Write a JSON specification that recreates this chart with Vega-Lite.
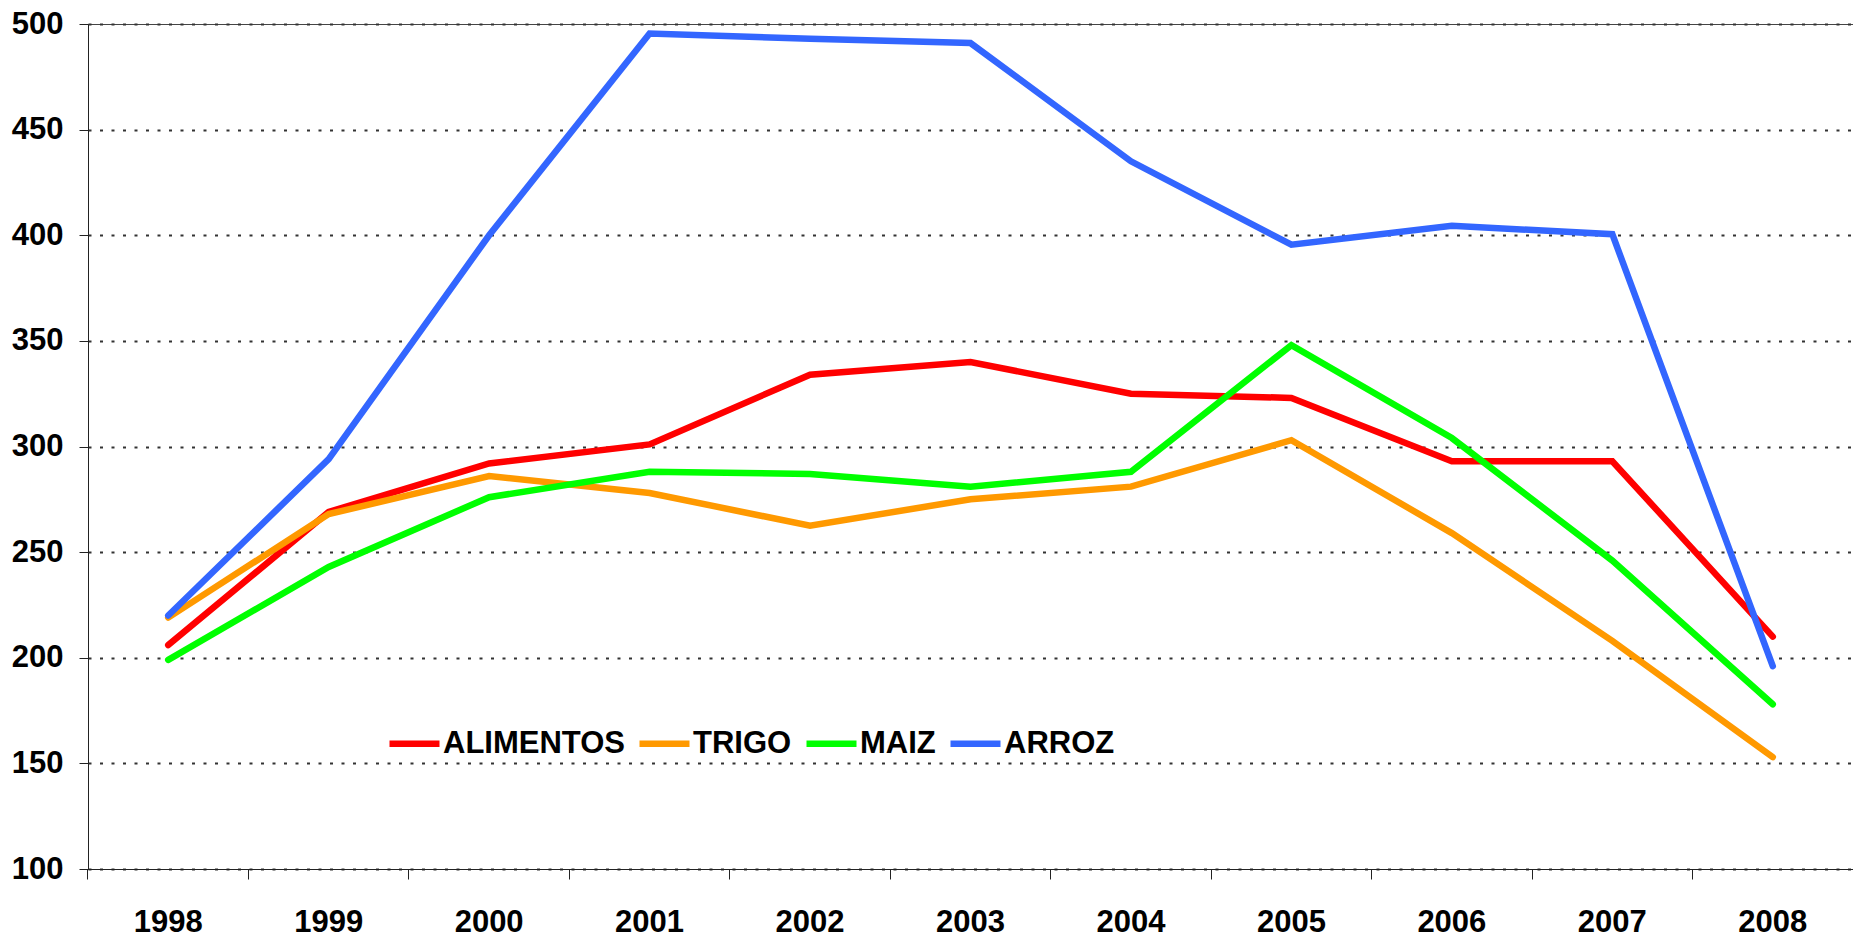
{
  "$schema": "https://vega.github.io/schema/vega-lite/v6.json",
  "width": 1765,
  "height": 845,
  "autosize": {"type": "none"},
  "padding": {"left": 88, "top": 24, "right": 0, "bottom": 69},
  "background": "white",
  "view": {"stroke": "#444", "strokeWidth": 1},
  "config": {"font": "Liberation Sans"},
  "data": {
    "values": [
      {"year": "1998", "series": "ALIMENTOS", "value": 206},
      {"year": "1999", "series": "ALIMENTOS", "value": 269},
      {"year": "2000", "series": "ALIMENTOS", "value": 292},
      {"year": "2001", "series": "ALIMENTOS", "value": 301},
      {"year": "2002", "series": "ALIMENTOS", "value": 334},
      {"year": "2003", "series": "ALIMENTOS", "value": 340},
      {"year": "2004", "series": "ALIMENTOS", "value": 325},
      {"year": "2005", "series": "ALIMENTOS", "value": 323},
      {"year": "2006", "series": "ALIMENTOS", "value": 293},
      {"year": "2007", "series": "ALIMENTOS", "value": 293},
      {"year": "2008", "series": "ALIMENTOS", "value": 210},
      {"year": "1998", "series": "TRIGO", "value": 219},
      {"year": "1999", "series": "TRIGO", "value": 268},
      {"year": "2000", "series": "TRIGO", "value": 286},
      {"year": "2001", "series": "TRIGO", "value": 278},
      {"year": "2002", "series": "TRIGO", "value": 262.5},
      {"year": "2003", "series": "TRIGO", "value": 275},
      {"year": "2004", "series": "TRIGO", "value": 281},
      {"year": "2005", "series": "TRIGO", "value": 303},
      {"year": "2006", "series": "TRIGO", "value": 259},
      {"year": "2007", "series": "TRIGO", "value": 208},
      {"year": "2008", "series": "TRIGO", "value": 153},
      {"year": "1998", "series": "MAIZ", "value": 199},
      {"year": "1999", "series": "MAIZ", "value": 243},
      {"year": "2000", "series": "MAIZ", "value": 276},
      {"year": "2001", "series": "MAIZ", "value": 288},
      {"year": "2002", "series": "MAIZ", "value": 287},
      {"year": "2003", "series": "MAIZ", "value": 281},
      {"year": "2004", "series": "MAIZ", "value": 288},
      {"year": "2005", "series": "MAIZ", "value": 348},
      {"year": "2006", "series": "MAIZ", "value": 304},
      {"year": "2007", "series": "MAIZ", "value": 246},
      {"year": "2008", "series": "MAIZ", "value": 178},
      {"year": "1998", "series": "ARROZ", "value": 220},
      {"year": "1999", "series": "ARROZ", "value": 294},
      {"year": "2000", "series": "ARROZ", "value": 400},
      {"year": "2001", "series": "ARROZ", "value": 495.5},
      {"year": "2002", "series": "ARROZ", "value": 493},
      {"year": "2003", "series": "ARROZ", "value": 491},
      {"year": "2004", "series": "ARROZ", "value": 435},
      {"year": "2005", "series": "ARROZ", "value": 395.5},
      {"year": "2006", "series": "ARROZ", "value": 404.5},
      {"year": "2007", "series": "ARROZ", "value": 400.5},
      {"year": "2008", "series": "ARROZ", "value": 196}
    ]
  },
  "mark": {"type": "line", "strokeWidth": 6.5, "strokeCap": "round", "strokeJoin": "miter"},
  "encoding": {
    "x": {
      "field": "year",
      "type": "ordinal",
      "scale": {"type": "band", "paddingInner": 0, "paddingOuter": 0},
      "axis": {
        "title": null,
        "bandPosition": 0,
        "labelAngle": 0,
        "labelFontSize": 31,
        "labelFontWeight": "bold",
        "labelColor": "black",
        "tickSize": 10,
        "labelPadding": 28,
        "domainColor": "#222",
        "tickColor": "#222",
        "grid": false
      }
    },
    "y": {
      "field": "value",
      "type": "quantitative",
      "scale": {"domain": [100, 500], "nice": false, "zero": false},
      "axis": {
        "title": null,
        "values": [100, 150, 200, 250, 300, 350, 400, 450, 500],
        "tickSize": 9,
        "labelPadding": 16,
        "labelFontSize": 31,
        "labelFontWeight": "bold",
        "labelColor": "black",
        "grid": true,
        "gridDash": [3, 8.5],
        "gridColor": "#333",
        "gridWidth": 2,
        "domainColor": "#222",
        "tickColor": "#222"
      }
    },
    "color": {
      "field": "series",
      "type": "nominal",
      "scale": {
        "domain": ["ALIMENTOS", "TRIGO", "MAIZ", "ARROZ"],
        "range": ["#FF0000", "#FF9900", "#00FF00", "#3366FF"]
      },
      "legend": {
        "orient": "none",
        "legendX": 298,
        "legendY": 691,
        "direction": "horizontal",
        "title": null,
        "symbolType": "stroke",
        "symbolSize": 2500,
        "symbolStrokeWidth": 6.5,
        "labelFontSize": 31,
        "labelFontWeight": "bold",
        "labelColor": "black",
        "labelOffset": 0,
        "columnPadding": 1,
        "padding": 0,
        "labelLimit": 400
      }
    }
  }
}
